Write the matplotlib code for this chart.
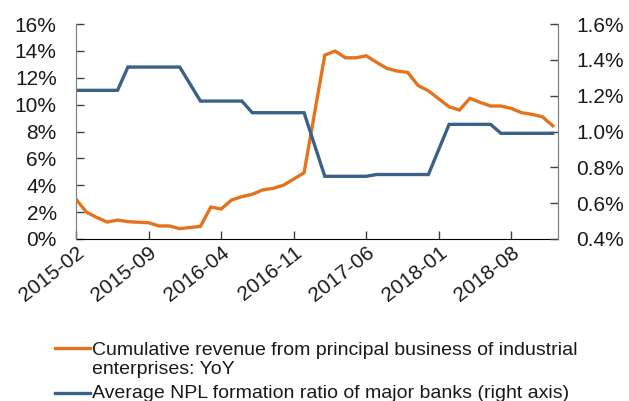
import numpy as np
import matplotlib
matplotlib.use("Agg")
import matplotlib.pyplot as plt
from matplotlib.lines import Line2D
from matplotlib.ticker import FuncFormatter, MultipleLocator
from matplotlib.transforms import ScaledTranslation

plt.rcParams['font.family'] = ['Liberation Sans', 'DejaVu Sans']

# monthly, 2015-02 .. 2018-12 (January figures not published -> None)
months = [f"{y}-{m:02d}" for y in range(2015, 2019) for m in range(1, 13)][1:]

revenue_yoy = [2.95, 2.0, 1.6, 1.26, 1.41, 1.29, 1.25, 1.21, 0.97, 0.97, 0.77,
               None, 0.94, 2.38, 2.23, 2.9, 3.15, 3.33, 3.65, 3.77, 4.0, 4.46, 4.93,
               None, 13.69, 13.99, 13.49, 13.49, 13.64, 13.15, 12.7, 12.5, 12.4, 11.43, 11.03,
               None, 9.84, 9.6, 10.47, 10.17, 9.9, 9.9, 9.72, 9.4, 9.28, 9.1, 8.43]

npl_ratio = [1.23, 1.23, 1.23, 1.23, 1.23, 1.36, 1.36, 1.36, 1.36, 1.36, 1.36,
             None, 1.17, 1.17, 1.17, 1.17, 1.17, 1.105, 1.105, 1.105, 1.105, 1.105, 1.105,
             None, 0.75, 0.75, 0.75, 0.75, 0.75, 0.76, 0.76, 0.76, 0.76, 0.76, 0.76,
             None, 1.04, 1.04, 1.04, 1.04, 1.04, 0.99, 0.99, 0.99, 0.99, 0.99, 0.99]

lb = ['Cumulative revenue from principal business of industrial\nenterprises: YoY',
      'Average NPL formation ratio of major banks (right axis)']

orange = '#E4731E'
blue = '#3B6189'
txt = '#1a1a1a'

x = np.arange(len(months))
r = np.array(revenue_yoy, dtype=float)
n = np.array(npl_ratio, dtype=float)

fig = plt.figure(figsize=(6.29, 4.01), dpi=100)
ax = fig.add_axes([0.121, 0.404, 0.766, 0.536])
ax2 = ax.twinx()

m1 = ~np.isnan(r)
ax.plot(x[m1], r[m1], color=orange, lw=2.4, solid_joinstyle='miter')
m2 = ~np.isnan(n)
ax2.plot(x[m2], n[m2], color=blue, lw=2.4, solid_joinstyle='miter')

ax.set_xlim(0, 46.5)
ax.set_ylim(0, 16)
ax2.set_ylim(0.4, 1.6)
ax.yaxis.set_major_locator(MultipleLocator(2))
ax2.yaxis.set_major_locator(MultipleLocator(0.2))
ax.yaxis.set_major_formatter(FuncFormatter(lambda v, p: f"{v:.0f}%"))
ax2.yaxis.set_major_formatter(FuncFormatter(lambda v, p: f"{v:.1f}%"))

ticks = x[::7]
ax.set_xticks(ticks)
ax.set_xticklabels([months[i] for i in ticks], rotation=38, ha='right',
                   rotation_mode='anchor')
shift = ScaledTranslation(8 / 100, 0, fig.dpi_scale_trans)
for t in ax.get_xticklabels():
    t.set_transform(t.get_transform() + shift)

for a in (ax, ax2):
    a.spines['top'].set_visible(False)
    a.spines['left'].set_color('#808080')
    a.spines['right'].set_color('#808080')
    a.spines['bottom'].set_color('black')
ax2.spines['bottom'].set_visible(False)

ax.tick_params(axis='y', direction='in', length=6, width=1, color='#404040',
               labelsize=15, labelcolor=txt, pad=14)
ax2.tick_params(axis='y', direction='in', length=6, width=1, color='#404040',
                labelsize=15, labelcolor=txt, pad=13)
ax.tick_params(axis='x', direction='in', length=6, width=1, color='#404040',
               labelsize=15, labelcolor=txt, pad=3)

# legend drawn by hand so the orange key sits on the first text line
fig.add_artist(Line2D([55 / 629, 90 / 629], [1 - 348 / 401] * 2, color=orange, lw=2.4))
fig.add_artist(Line2D([55 / 629, 90 / 629], [1 - 393 / 401] * 2, color=blue, lw=2.4))
fig.text(92 / 629, 1 - 360 / 401, lb[0], fontsize=14, color=txt, va='center',
         linespacing=1.2)
fig.text(92 / 629, 1 - 393 / 401, lb[1], fontsize=14, color=txt, va='center')

fig.savefig('out.png', dpi=100)
plt.close(fig)
